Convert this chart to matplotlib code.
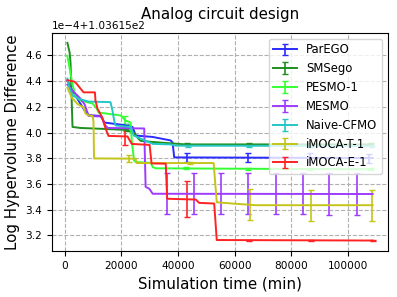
import numpy as np
import matplotlib
matplotlib.use("Agg")
import matplotlib.pyplot as plt

# y values are in units of 1e-4 above the offset 103.615
OFFSET = 103.615
SCALE = 1e-4

names = ["ParEGO", "SMSego", "PESMO-1", "MESMO", "Naive-CFMO", "iMOCA-T-1", "iMOCA-E-1"]
colors = ["#2b2bff", "#1f8f1f", "#33ff33", "#9d3cff", "#26c6c6", "#c4c41a", "#ff2222"]

# ParEGO
parego_x = [1000, 2800, 4900, 7100, 8500, 12700, 14100, 20800, 24000, 25100, 31100, 37400, 38100, 38700, 108700]
parego_y = [4.404, 4.326, 4.249, 4.171, 4.136, 4.129, 4.078, 4.059, 4.043, 3.977, 3.966, 3.939, 3.923, 3.807, 3.802]
parego_ex = [21500, 43300, 64700, 86500, 107300]
parego_ee = [0.01, 0.035, 0.035, 0.035, 0.035]

# SMSego
smsego_x = [1000, 1800, 2100, 2800, 5600, 14500, 21500, 24400, 25800, 26800, 30400, 42700, 108700]
smsego_y = [4.698, 4.621, 4.543, 4.044, 4.036, 4.028, 4.021, 3.998, 3.959, 3.936, 3.928, 3.908, 3.908]
smsego_ex = [21800, 43300, 65000, 86600, 108300]
smsego_ee = [0.008, 0.008, 0.008, 0.008, 0.008]

# PESMO-1
pesmo_x = [950, 1500, 2100, 2800, 3900, 5600, 9900, 11300, 12000, 19800, 21500, 23300, 23700,
           24500, 25100, 30400, 31100, 32100, 108700]
pesmo_y = [4.598, 4.536, 4.459, 4.374, 4.281, 4.249, 4.226, 4.187, 4.156, 4.133, 4.094, 4.078, 3.939,
           3.784, 3.771, 3.764, 3.732, 3.722, 3.714]
pesmo_ex = [21300, 43000, 64800, 86500, 108300]
pesmo_ee = [0.028, 0.008, 0.008, 0.008, 0.008]

# MESMO
mesmo_x = [1000, 2800, 4900, 5600, 7100, 8500, 13100, 14100, 15200, 28100, 28600, 29900, 31100, 108700]
mesmo_y = [4.373, 4.326, 4.280, 4.264, 4.218, 4.129, 4.125, 4.063, 4.036, 4.032, 3.578, 3.563, 3.524, 3.522]
mesmo_ex = [36000, 45500, 55200, 64800, 74500, 84000, 93400, 103100]
mesmo_ee = [0.16, 0.16, 0.16, 0.16, 0.16, 0.16, 0.16, 0.16]

# Naive-CFMO
naive_x = [1000, 1800, 2800, 4900, 8500, 16200, 16900, 17500, 18000, 23300, 24400, 25100, 29200,
           31100, 37400, 39200, 108700]
naive_y = [4.419, 4.341, 4.288, 4.264, 4.241, 4.237, 4.171, 4.094, 4.055, 4.043, 3.977, 3.970, 3.931,
           3.912, 3.908, 3.898, 3.896]
naive_ex = [22000, 43600, 65200, 86800, 108400]
naive_ee = [0.008, 0.008, 0.008, 0.008, 0.008]

# iMOCA-T-1
imoca_t_x = [1000, 2500, 4600, 6700, 7400, 8500, 9900, 10200, 10400, 25100, 25400, 52600, 53700,
             59700, 67400, 108700]
imoca_t_y = [4.350, 4.272, 4.222, 4.195, 4.148, 4.133, 4.129, 4.086, 3.799, 3.797, 3.763, 3.763,
             3.458, 3.447, 3.435, 3.435]
imoca_t_ex = [22600, 44200, 65600, 87100, 108600]
imoca_t_ee = [0.028, 0.01, 0.12, 0.12, 0.12]

# iMOCA-E-1
imoca_e_x = [1000, 3500, 4200, 6700, 10700, 10900, 11600, 13300, 14500, 15500, 22200, 23700, 30000,
             30700, 35700, 36200, 46300, 47500, 52800, 53700, 108700]
imoca_e_y = [4.408, 4.396, 4.381, 4.313, 4.313, 4.249, 4.187, 4.117, 4.029, 3.974, 3.970, 3.912,
             3.904, 3.760, 3.758, 3.485, 3.479, 3.453, 3.448, 3.164, 3.160]
imoca_e_ex = [21200, 43100, 65000, 86800, 108700]
imoca_e_ee = [0.07, 0.14, 0.004, 0.004, 0.004]

series = [
    (parego_x, parego_y, parego_ex, parego_ee),
    (smsego_x, smsego_y, smsego_ex, smsego_ee),
    (pesmo_x, pesmo_y, pesmo_ex, pesmo_ee),
    (mesmo_x, mesmo_y, mesmo_ex, mesmo_ee),
    (naive_x, naive_y, naive_ex, naive_ee),
    (imoca_t_x, imoca_t_y, imoca_t_ex, imoca_t_ee),
    (imoca_e_x, imoca_e_y, imoca_e_ex, imoca_e_ee),
]


def merge(xs, ys, ex, ee):
    # put the error bar points onto the curve so errorbar draws line + bars together
    xs = np.asarray(xs, float)
    ys = np.asarray(ys, float)
    ex = np.asarray(ex, float)
    ey = np.interp(ex, xs, ys)
    x = np.concatenate([xs, ex])
    y = np.concatenate([ys, ey])
    e = np.concatenate([np.zeros(len(xs)), np.asarray(ee, float)])
    order = np.argsort(x, kind="stable")
    return x[order], y[order], e[order]


fig, ax = plt.subplots(figsize=(3.97, 2.97), dpi=100)
fig.subplots_adjust(left=0.131, right=0.977, top=0.889, bottom=0.155)

for name, c, (xs, ys, ex, ee) in zip(names, colors, series):
    x, y, e = merge(xs, ys, ex, ee)
    ax.errorbar(x, OFFSET + y * SCALE, yerr=e * SCALE, errorevery=e > 0,
                color=c, lw=1.4, elinewidth=1.2, capsize=2.2, label=name)

ax.ticklabel_format(axis="y", style="sci", scilimits=(-4, 4), useOffset=True)
ax.yaxis.get_offset_text().set_fontsize(7.6)
ax.tick_params(labelsize=7.6)
ax.grid(True, linestyle="--", color="#b0b0b0", linewidth=0.8)

ax.set_xlabel("Simulation time (min)", fontsize=10.8)
ax.set_ylabel("Log Hypervolume Difference", fontsize=10.8)
ax.set_title("Analog circuit design", fontsize=10.8, y=1.0, pad=10.4)
ax.legend(loc="upper right", fontsize=8.4)

plt.savefig("out.png", dpi=100)
